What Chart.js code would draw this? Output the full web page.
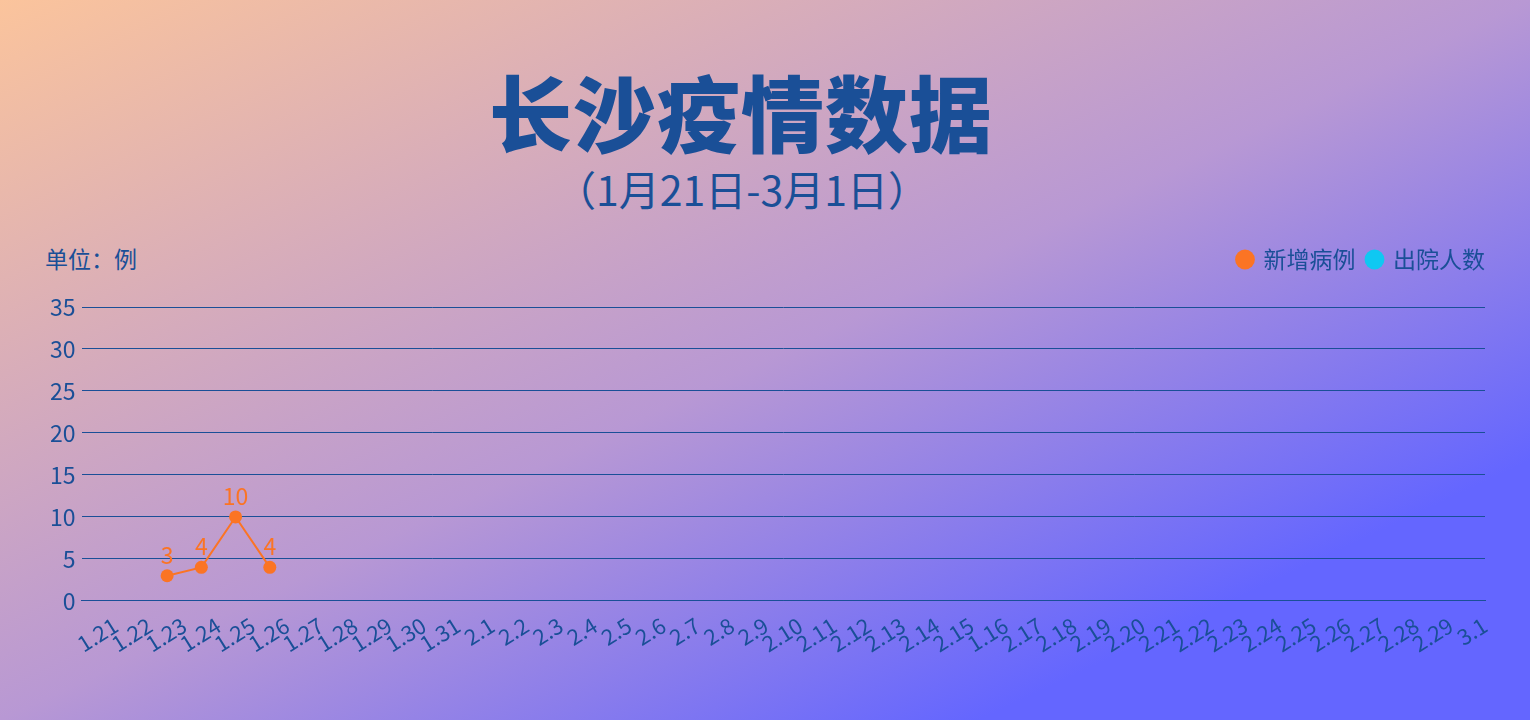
<!DOCTYPE html>
<html>
<head>
<meta charset="utf-8">
<script src="https://cdn.jsdelivr.net/npm/chart.js@4"></script>
<style>
  html, body { margin: 0; padding: 0; }
  body {
    width: 1530px; height: 720px; overflow: hidden; position: relative;
    background: linear-gradient(to bottom right, #fbc49c 0%, #b898d4 50%, #6466ff 82%);
    font-family: "Noto Sans CJK SC", "Noto Sans", sans-serif;
    color: #1a4f97;
  }
  #title {
    position: absolute; left: 0; width: 1482px; top: 50px; text-align: center;
    font-size: 83px; font-weight: 900; line-height: 120px; letter-spacing: 1px;
  }
  #subtitle {
    position: absolute; left: 0; width: 1484px; top: 160px; text-align: center;
    font-size: 41px; line-height: 56px;
  }
  #unit { position: absolute; left: 45px; top: 241px; font-size: 23px; line-height: 34px; }
  #wrap { position: absolute; left: 0; top: 238px; width: 1530px; height: 426px; }
</style>
</head>
<body>
<div id="title">长沙疫情数据</div>
<div id="subtitle">（1月21日-3月1日）</div>
<div id="unit">单位：例</div>
<div id="wrap"><canvas id="chart"></canvas></div>
<script>
// x categories (1.16 appears as-is in the source)
const days = ['1.21', '1.22', '1.23', '1.24', '1.25', '1.26', '1.27', '1.28', '1.29', '1.30', '1.31',
    '2.1', '2.2', '2.3', '2.4', '2.5', '2.6', '2.7', '2.8', '2.9', '2.10', '2.11', '2.12', '2.13', '2.14', '2.15',
    '1.16', '2.17', '2.18', '2.19', '2.20', '2.21', '2.22', '2.23', '2.24', '2.25', '2.26', '2.27', '2.28', '2.29', '3.1'];

// only the first points are visible in the picture
const new_cases = [null, null, 3, 4, 10, 4];
const discharged = [];

const y_ticks_max = 35;
const y_ticks_step = 5;

const blue = '#1a4f97';
const orange = '#fb7424';
const cyan = '#0fc8f2';

Chart.defaults.font.family = '"Noto Sans CJK SC", "Noto Sans", sans-serif';
Chart.defaults.color = blue;

// value labels above the points
const value_labels = {
    id: 'value_labels',
    afterDatasetsDraw(chart) {
        const ctx = chart.ctx;
        chart.data.datasets.forEach((ds, i) => {
            const meta = chart.getDatasetMeta(i);
            if (meta.hidden) return;
            meta.data.forEach((pt, j) => {
                const v = ds.data[j];
                if (v === null || v === undefined) return;
                ctx.save();
                ctx.fillStyle = ds.borderColor;
                ctx.font = '23px "Noto Sans CJK SC", "Noto Sans", sans-serif';
                ctx.textAlign = 'center';
                ctx.textBaseline = 'alphabetic';
                ctx.fillText(String(v), pt.x, pt.y - 12);
                ctx.restore();
            });
        });
    }
};

// extra room between legend and plot, legend nudged to the right edge
const legend_gap = {
    id: 'legend_gap',
    beforeInit(chart) {
        const fit = chart.legend.fit;
        chart.legend.fit = function () {
            fit.bind(chart.legend)();
            this.height += 24;
        };
    },
    afterLayout(chart) {
        chart.legend.left += 12;
        chart.legend.right += 12;
        chart.legend.top -= 2;
        chart.legend.bottom -= 2;
    }
};

const config = {
    type: 'line',
    data: {
        labels: days,
        datasets: [{
            label: '新增病例',
            data: new_cases,
            borderColor: orange,
            backgroundColor: orange,
            borderWidth: 2,
            pointRadius: 6.5,
            pointHoverRadius: 6.5,
            pointBackgroundColor: orange,
            pointBorderWidth: 0,
            tension: 0,
        }, {
            label: '出院人数',
            data: discharged,
            borderColor: cyan,
            backgroundColor: cyan,
            borderWidth: 2,
            pointRadius: 6.5,
            pointBorderWidth: 0,
        }]
    },
    options: {
        responsive: true,
        maintainAspectRatio: false,
        animation: false,
        layout: { padding: { left: 44, right: 45, top: 0, bottom: 4 } },
        plugins: {
            legend: {
                position: 'top',
                align: 'end',
                labels: {
                    usePointStyle: true,
                    pointStyle: 'circle',
                    boxWidth: 14,
                    boxHeight: 14,
                    padding: 12,
                    color: blue,
                    font: { size: 23 },
                },
            },
            tooltip: { enabled: false },
        },
        scales: {
            x: {
                offset: true,
                grid: { display: false },
                border: { color: blue, width: 1 },
                ticks: {
                    autoSkip: false,
                    maxRotation: 32,
                    minRotation: 32,
                    padding: 3,
                    labelOffset: 17,
                    color: blue,
                    font: { size: 22 },
                },
            },
            y: {
                min: 0,
                max: y_ticks_max,
                grid: { color: blue, lineWidth: 1, drawTicks: false },
                border: { display: false },
                ticks: {
                    stepSize: y_ticks_step,
                    padding: 6,
                    color: blue,
                    font: { size: 23 },
                },
            }
        }
    },
    plugins: [value_labels, legend_gap]
};

const ctx = document.getElementById('chart').getContext('2d');
const chart = new Chart(ctx, config);
</script>
</body>
</html>
